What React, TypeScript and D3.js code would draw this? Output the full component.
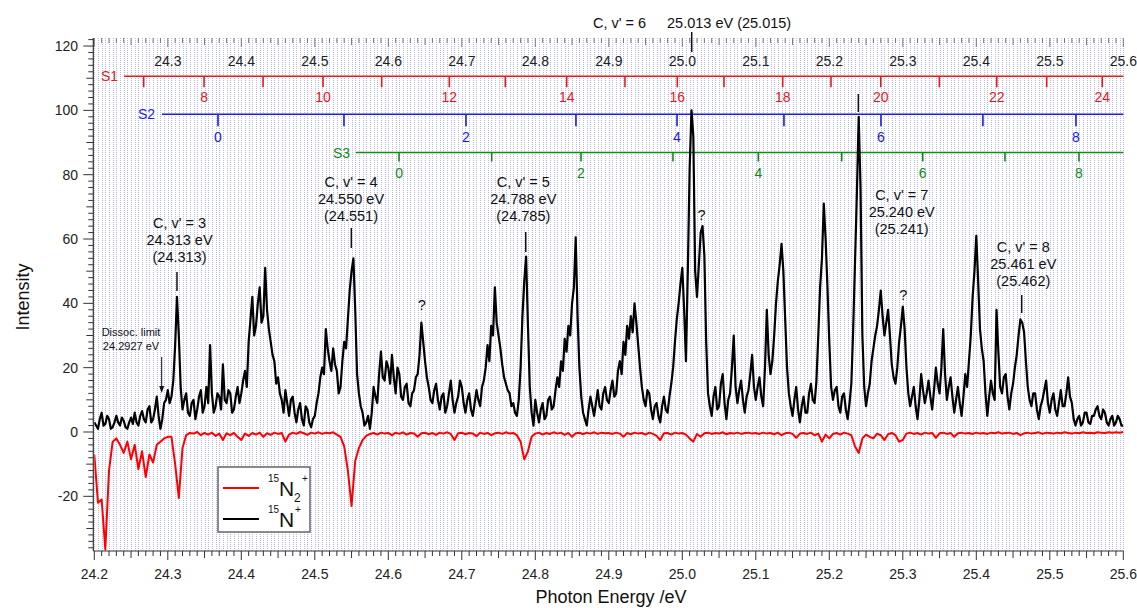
import React from "react";
import * as d3 from "d3";

// ---------- data ----------
const ENERGY_START = 24.2;
const N_STEP = 0.0025; // sampling of the 15N+ trace
const N2_STEP = 0.005; // sampling of the 15N2+ trace

// 15N+ signal (black), one value every 0.0025 eV from 24.200 to 25.600
const n15Plus = [
  3, 2, 1, 4, 6, 2, 2.5, 5, 4, 1, 1.5, 3, 5, 3, 2, 4.5, 3.5, 1.5, 1, 3, 4.5, 2.5, 6, 3, 2, 5, 6.5, 4, 3, 7, 8, 3, 4, 7, 11, 5, 1, 4, 9, 10,
  13, 9, 11, 16, 27, 42, 30, 14, 7, 10, 12, 6, 5, 9, 10, 4, 7, 11, 13, 6, 8, 14, 9, 27, 12, 6, 8, 12, 11, 7, 21, 10, 9, 13, 12, 6, 7, 11, 14, 9,
  12, 16, 19, 14, 28, 35, 42, 30, 33, 40, 45, 34, 36, 51, 38, 32, 28, 24, 22, 15, 17, 12, 10, 6, 13, 9, 5, 10, 11, 6, 3, 7, 9, 4, 2, 8, 7, 3, 1.5, 4,
  5, 9, 12, 17, 20, 18, 32, 26, 22, 19, 26, 21, 19, 12, 14, 22, 28, 26, 35, 44, 50, 54, 38, 18, 12, 8, 6, 2, 3, 5, 1, 6, 14, 11, 9, 18, 25, 17, 16, 22,
  20, 15, 24, 17, 12, 20, 18, 11, 10, 14, 15, 9, 8, 12, 13, 17, 18, 24, 34, 28, 22, 17, 14, 10, 9, 13, 15, 10, 7, 11, 12, 6, 8, 12, 16, 10, 6, 9, 11, 16,
  14, 9, 6, 10, 12, 7, 5, 9, 13, 10, 8, 14, 16, 20, 27, 22, 33, 30, 45, 34, 30, 26, 21, 17, 15, 13, 12, 8, 9, 6, 5, 10, 20, 36, 47, 54.5, 33, 14, 6, 2,
  10, 6, 3, 7, 9, 4, 5, 10, 11, 7, 8, 13, 17, 14, 22, 19, 29, 25, 33, 30, 40, 45, 60.5, 36, 20, 11, 6, 4, 2, 7, 11, 8, 5, 9, 13, 8, 7, 12, 14, 10,
  9, 13, 16, 11, 12, 19, 22, 18, 28, 24, 33, 29, 36, 31, 40, 34, 27, 20, 14, 10, 8, 13, 12, 7, 4, 8, 9, 5, 3, 8, 11, 7, 6, 11, 15, 20, 28, 35, 40, 46,
  51, 38, 22, 50, 82, 100, 92, 50, 42, 52, 62, 64, 55, 28, 12, 8, 5, 11, 14, 7, 8, 15, 18, 9, 4, 10, 12, 20, 30, 14, 9, 13, 16, 10, 6, 11, 13, 18, 24, 14,
  10, 14, 17, 11, 8, 20, 38, 24, 18, 22, 30, 40, 47, 52, 58.5, 50, 35, 20, 12, 8, 5, 10, 14, 7, 3, 8, 11, 6, 6, 12, 15, 10, 9, 16, 30, 45, 54, 71, 60, 45,
  28, 14, 10, 13, 14, 8, 6, 11, 12, 7, 4, 9, 15, 32, 53, 74, 98, 76, 30, 14, 8, 12, 15, 22, 26, 30, 33, 38, 44, 36, 30, 34, 38, 30, 21, 17, 15, 20, 28, 33,
  39, 32, 20, 12, 8, 11, 14, 8, 4, 10, 18, 13, 9, 12, 16, 11, 7, 13, 20, 15, 12, 20, 32, 18, 10, 14, 17, 11, 6, 10, 14, 9, 5, 11, 18, 14, 22, 30, 42, 50,
  61, 47, 32, 26, 22, 12, 5, 11, 16, 12, 10, 38, 25, 14, 12, 17, 18, 11, 7, 12, 15, 20, 24, 30, 35, 34, 31, 22, 14, 10, 8, 12, 12, 7, 4, 8, 10, 13, 16, 9,
  6, 10, 12, 7, 5, 9, 13, 8, 8, 12, 17, 11, 9, 4, 2, 4, 5, 2, 3, 6, 6, 3, 2.5, 5, 5, 7, 8, 5, 4, 7, 6, 3, 2, 4, 5, 2, 3, 5, 4, 2,
  2,
];

// 15N2+ signal (red), one value every 0.005 eV from 24.200 to 25.600
const n15Two = [
  -7, -22, -21, -36.5, -12, -3, -2, -4, -6.5, -3, -8.5, -4, -11.5, -6, -14, -7, -9.5, -4, -3, -2,
  -1.5, -1.5, -10, -20.5, -5, -1, -0.3, -0.5, 0, -1, -0.3, -0.8, -0.2, -1.2, -0.5, -2.5, -0.4, -1, -0.3, -1.5,
  -2.5, -0.5, -1.2, -0.3, -0.8, -0.2, -1.5, -0.4, -0.9, -0.2, -0.6, -0.3, -3, -0.8, -0.2, -0.6, 0, -0.4, -0.9, -0.2,
  -0.5, -0.1, -0.6, -0.2, -0.4, -0.1, -0.8, -1.5, -4.5, -12, -23, -9, -5, -2.5, -1.2, -0.6, -0.3, -0.8, -0.2, -0.5,
  -0.3, -1, -0.2, -0.6, -0.1, -0.8, -0.3, -0.5, -1.5, -0.4, -0.2, -0.7, -0.3, -0.9, -0.2, -0.5, -0.1, -0.6, -2.5, -0.4,
  -0.2, -0.7, -0.3, -0.5, -1.3, -0.2, -0.6, -0.3, -1, -0.4, -0.2, -0.6, -0.1, -0.5, -0.3, -1, -3, -8.5, -6, -1.5,
  -0.5, -0.2, -0.8, -0.3, -0.6, -0.1, -0.5, -0.2, -0.9, -0.3, -1.5, -0.4, -0.2, -0.7, -0.2, -0.5, -0.1, -0.6, -0.2, -0.4,
  -0.3, -0.6, -0.2, -0.5, -1.5, -0.3, -0.7, -0.2, -0.5, -0.3, -0.8, -0.2, -0.6, -1.2, -2.5, -0.4, -0.3, -0.8, -0.2, -0.5,
  -0.3, -0.8, -2, -3, -0.6, -1.5, -0.4, -0.2, -0.6, -0.3, -0.5, -0.1, -0.7, -0.3, -0.5, -0.2, -0.6, -0.3, -0.2, -0.5,
  -0.3, -0.6, -0.2, -0.5, -0.3, -0.7, -0.2, -1, -0.4, -0.2, -0.6, -1.8, -0.5, -0.3, -0.6, -0.2, -1, -0.5, -3, -0.8,
  -2, -0.6, -0.3, -0.8, -0.2, -0.5, -1, -4.5, -6.5, -2, -0.8, -1.5, -2, -0.5, -1, -2.5, -0.7, -0.3, -1, -3,
  -2.5, -0.5, -0.2, -0.6, -0.3, -0.8, -0.2, -0.5, -0.3, -1.8, -0.4, -0.2, -0.6, -0.3, -1.5, -0.4, -0.2, -0.5, -0.3, -0.6,
  -0.2, -0.5, -0.3, -0.6, -0.2, -0.4, -0.1, -0.5, -0.3, -0.2, -0.6, -0.3, -1, -0.4, -0.2, -0.5, -0.3, -0.1, -0.6, -0.2,
  -0.3, -0.5, -0.2, -0.4, -0.1, -0.3, -0.5, -0.2, -0.4, -0.1, -0.3, -0.2, -0.4, -0.1, -0.2, -0.3, -0.1, -0.2, -0.1, -0.2,
  0,
];

// progression tick energies (eV) and their quantum numbers
const s1Energies = [24.2672, 24.3493, 24.4296, 24.5112, 24.591, 24.683, 24.7592, 24.8427, 24.922, 24.9932, 25.0567, 25.1366, 25.2023, 25.27, 25.3497, 25.4278, 25.4958, 25.5714];
const s1Numbers = [7, 8, 9, 10, 11, 12, 13, 14, 15, 16, 17, 18, 19, 20, 21, 22, 23, 24];
const s2Energies = [24.3683, 24.5397, 24.7057, 24.8553, 24.9928, 25.1383, 25.2703, 25.409, 25.5356];
const s2Numbers = [0, 1, 2, 3, 4, 5, 6, 7, 8];
const s3Energies = [24.6146, 24.7407, 24.8622, 24.9873, 25.1034, 25.2169, 25.3271, 25.439, 25.5397];
const s3Numbers = [0, 1, 2, 3, 4, 5, 6, 7, 8];

const xTickLabels = ["24.2", "24.3", "24.4", "24.5", "24.6", "24.7", "24.8", "24.9", "25.0", "25.1", "25.2", "25.3", "25.4", "25.5", "25.6"];
const yTickValues = [-20, 0, 20, 40, 60, 80, 100, 120];

const peakNames = ["C, v' = 3", "C, v' = 4", "C, v' = 5", "C, v' = 7", "C, v' = 8"];
const peakEnergyText = ["24.313 eV", "24.550 eV", "24.788 eV", "25.240 eV", "25.461 eV"];
const peakCalcText = ["(24.313)", "(24.551)", "(24.785)", "(25.241)", "(25.462)"];

// ---------- layout ----------
const W = 1137;
const H = 608;
const FONT = "'Liberation Sans', Arial, Helvetica, sans-serif";

const x = d3.scaleLinear().domain([24.2, 25.6]).range([94.3, 1123.3]);
const y = d3.scaleLinear().domain([-37, 122.5]).range([551, 38]);

const lineFor = (step: number) =>
  d3
    .line<number>()
    .x((_, i) => x(ENERGY_START + i * step))
    .y((d) => y(d));

const S1_COLOR = "#e31a1c";
const S2_COLOR = "#1c1cd8";
const S3_COLOR = "#138a13";
const crisp = (v: number) => Math.round(v) + 0.5;

export default function App() {
  const plotLeft = x(24.2);
  const plotRight = x(25.6);
  const plotTop = y(122.5);
  const plotBottom = y(-37);

  const gridE = d3.range(0, 281).map((i) => 24.2 + i * 0.005);
  const tickE = d3.range(0, 141).map((i) => ({ e: 24.2 + i * 0.01, k: i }));
  const yMinor = d3.range(-36, 123, 2);

  const series = [
    { name: "S1", color: S1_COLOR, yv: 110.6, start: 24.2404, energies: s1Energies, nums: s1Numbers, tickLen: 11, labelDy: 26, labelX: 118 },
    { name: "S2", color: S2_COLOR, yv: 98.8, start: 24.2921, energies: s2Energies, nums: s2Numbers, tickLen: 12, labelDy: 28, labelX: 155 },
    { name: "S3", color: S3_COLOR, yv: 86.9, start: 24.556, energies: s3Energies, nums: s3Numbers, tickLen: 9, labelDy: 25, labelX: 350 },
  ];

  const peakMarkE = [24.3125, 24.5497, 24.787, 25.2395, 25.4618];
  const peakTextCx = [179.5, 351, 523.3, 901.7, 1023.3];
  const peakTextTop = [228, 187, 187, 200, 252];
  const peakMarkY = [[272, 291], [228, 248], [232, 252], [94, 112], [295, 313]];

  return (
    <svg width={W} height={H} style={{ display: "block", position: "absolute", left: 0, top: 0, background: "#fff" }} fontFamily={FONT}>
      <defs>
        <clipPath id="plotClip">
          <rect x={plotLeft} y={plotTop} width={plotRight - plotLeft} height={plotBottom - plotTop} />
        </clipPath>
      </defs>

      {/* vertical dotted grid */}
      <g shapeRendering="crispEdges">
        {gridE.map((e, i) => (
          <line key={i} x1={crisp(x(e))} x2={crisp(x(e))} y1={Math.round(plotTop)} y2={plotBottom} stroke="#8a8aee" strokeWidth={1} strokeDasharray="1 1" opacity={0.6} />
        ))}
      </g>

      {/* top ticks */}
      <g>
        {tickE.map(({ e, k }) => {
          const len = k % 10 === 0 ? 9 : k % 5 === 0 ? 7 : 5;
          return <line key={k} x1={x(e)} x2={x(e)} y1={plotTop} y2={plotTop + len} stroke="#777" strokeWidth={1} />;
        })}
        {xTickLabels.slice(1).map((t) => (
          <text key={t} x={x(+t)} y={66} fontSize={14} textAnchor="middle" fill="#222">{t}</text>
        ))}
      </g>

      {/* progression bars */}
      {series.map((s) => (
        <g key={s.name}>
          <line x1={x(s.start)} x2={plotRight} y1={y(s.yv)} y2={y(s.yv)} stroke={s.color} strokeWidth={1.6} />
          <text x={s.labelX} y={y(s.yv) + 5} fontSize={14} textAnchor="end" fill={s.color}>{s.name}</text>
          {s.energies.map((e, i) => (
            <g key={i}>
              <line x1={x(e)} x2={x(e)} y1={y(s.yv)} y2={y(s.yv) + s.tickLen} stroke={s.color} strokeWidth={1.6} />
              {s.nums[i] % 2 === 0 && (
                <text x={x(e)} y={y(s.yv) + s.labelDy} fontSize={14} textAnchor="middle" fill={s.color}>{s.nums[i]}</text>
              )}
            </g>
          ))}
        </g>
      ))}

      {/* data */}
      <g clipPath="url(#plotClip)">
        <path d={lineFor(N2_STEP)(n15Two) || ""} fill="none" stroke="#ff0000" strokeWidth={2} strokeLinejoin="round" />
        <path d={lineFor(N_STEP)(n15Plus) || ""} fill="none" stroke="#000" strokeWidth={2.2} strokeLinejoin="round" />
      </g>

      {/* left axis */}
      <g>
        <line x1={plotLeft - 1} x2={plotLeft - 1} y1={plotTop} y2={plotBottom} stroke="#333" strokeWidth={1.2} />
        {yMinor.map((v) => {
          const len = v % 20 === 0 ? 10 : v % 10 === 0 ? 7 : 5;
          return <line key={v} x1={plotLeft - 1 - len} x2={plotLeft - 1} y1={y(v)} y2={y(v)} stroke="#333" strokeWidth={1} />;
        })}
        {yTickValues.map((v) => (
          <text key={v} x={78} y={y(v) + 5} fontSize={14} textAnchor="end" fill="#222">{v}</text>
        ))}
      </g>

      {/* bottom axis */}
      <g>
        <line x1={plotLeft - 1} x2={plotRight} y1={plotBottom} y2={plotBottom} stroke="#333" strokeWidth={1.2} />
        {tickE.map(({ e, k }) => {
          const len = k % 10 === 0 ? 9 : k % 5 === 0 ? 7 : 5;
          return <line key={k} x1={x(e)} x2={x(e)} y1={plotBottom} y2={plotBottom + len} stroke="#333" strokeWidth={1} />;
        })}
        {xTickLabels.map((t) => (
          <text key={t} x={x(+t)} y={579} fontSize={14} textAnchor="middle" fill="#222">{t}</text>
        ))}
      </g>

      {/* axis titles */}
      <text x={611} y={603} fontSize={18} textAnchor="middle" fill="#111">Photon Energy /eV</text>
      <text transform="translate(29,297) rotate(-90)" fontSize={18} textAnchor="middle" fill="#111">Intensity</text>

      {/* peak annotations */}
      {peakNames.map((n, i) => (
        <g key={n} fontSize={14.5} fill="#111" textAnchor="middle">
          <text x={peakTextCx[i]} y={peakTextTop[i]}>{n}</text>
          <text x={peakTextCx[i]} y={peakTextTop[i] + 17}>{peakEnergyText[i]}</text>
          <text x={peakTextCx[i]} y={peakTextTop[i] + 34}>{peakCalcText[i]}</text>
          <line x1={x(peakMarkE[i])} x2={x(peakMarkE[i])} y1={peakMarkY[i][0]} y2={peakMarkY[i][1]} stroke="#111" strokeWidth={1.5} />
        </g>
      ))}
      <text x={593} y={28} fontSize={14.5} fill="#111">C, v' = 6</text>
      <text x={667} y={28} fontSize={14.5} fill="#111">25.013 eV (25.015)</text>
      <line x1={x(25.0128)} x2={x(25.0128)} y1={32} y2={52} stroke="#111" strokeWidth={1.5} />

      {/* question marks */}
      <g fontSize={14.5} fill="#111" textAnchor="middle">
        <text x={x(24.6455)} y={310}>?</text>
        <text x={x(25.0262)} y={220}>?</text>
        <text x={x(25.3006)} y={300}>?</text>
      </g>

      {/* dissociation limit */}
      <g fontSize={11} fill="#111" textAnchor="middle">
        <text x={131} y={335.5}>Dissoc. limit</text>
        <text x={131} y={350}>24.2927 eV</text>
        <line x1={x(24.2917)} x2={x(24.2917)} y1={357} y2={390} stroke="#111" strokeWidth={1} />
        <path d={`M${x(24.2917) - 2.5},${386} L${x(24.2917) + 2.5},${386} L${x(24.2917)},${393} Z`} fill="#111" />
      </g>

      {/* legend */}
      <g>
        <rect x={218} y={467} width={92} height={65} fill="#fff" stroke="#666" strokeWidth={1.5} />
        <line x1={223} x2={259} y1={488} y2={488} stroke="#ff0000" strokeWidth={2} />
        <line x1={223} x2={259} y1={519} y2={519} stroke="#000" strokeWidth={2} />
        <g fill="#111">
          <text x={268} y={482} fontSize={10}>15</text>
          <text x={279} y={496} fontSize={21}>N</text>
          <text x={294} y={502} fontSize={12}>2</text>
          <text x={302} y={482} fontSize={10}>+</text>
          <text x={268} y={513} fontSize={10}>15</text>
          <text x={279} y={527} fontSize={21}>N</text>
          <text x={295} y={513} fontSize={10}>+</text>
        </g>
      </g>
    </svg>
  );
}
